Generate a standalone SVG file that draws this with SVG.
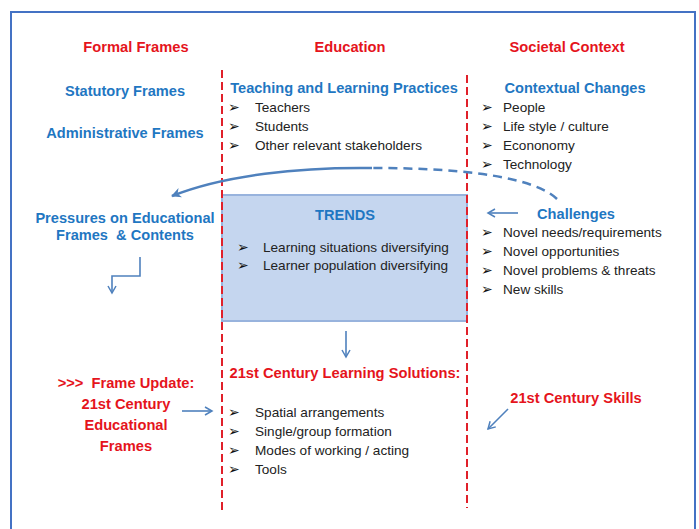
<svg xmlns="http://www.w3.org/2000/svg" width="699" height="529" viewBox="0 0 699 529">
<style>
text{font-family:"Liberation Sans",Arial,sans-serif}
.red{fill:#E5141C;font-weight:bold;font-size:14.7px}
.blue{fill:#1F77C2;font-weight:bold;font-size:14.6px}
.body{fill:#222;font-size:13.6px}
.bul{fill:#111;font-family:"DejaVu Sans",sans-serif;font-size:14px}
.mid{text-anchor:middle}
.conn{fill:none;stroke:#4F81BD;stroke-width:1.6}
.div{stroke:#E0202A;stroke-width:2;stroke-dasharray:8,4}
</style>
<defs>
<marker id="open" markerWidth="10" markerHeight="10" refX="8" refY="5" orient="auto" markerUnits="userSpaceOnUse">
<path d="M1,1 L8,5 L1,9" fill="none" stroke="#4F81BD" stroke-width="1.5"/>
</marker>
<marker id="solid" markerWidth="12" markerHeight="12" refX="9" refY="6" orient="auto" markerUnits="userSpaceOnUse">
<path d="M0,1 L10,6 L0,11 L3,6 Z" fill="#4F81BD"/>
</marker>
</defs>
<rect x="0" y="0" width="699" height="529" fill="#fff"/>
<rect x="11" y="12" width="684" height="530" fill="none" stroke="#4472C4" stroke-width="2"/>

<g id="trends">
<rect x="222" y="195" width="245" height="126" fill="#C5D6EF" stroke="#98B3DD" stroke-width="2"/>
<text class="blue mid" x="345" y="220">TRENDS</text>
<text class="bul" x="237" y="252">➢</text>
<text class="body" x="263" y="252">Learning situations diversifying</text>
<text class="bul" x="237" y="270">➢</text>
<text class="body" x="263" y="270">Learner population diversifying</text>
</g>

<g id="dividers">
<line class="div" x1="222" y1="70" x2="222" y2="514"/>
<line class="div" x1="467" y1="75" x2="467" y2="508"/>
</g>

<g id="headers">
<text class="red mid" x="136" y="52">Formal Frames</text>
<text class="red mid" x="350" y="52">Education</text>
<text class="red mid" x="567" y="52">Societal Context</text>
</g>

<g id="statutory"><text class="blue mid" x="125" y="96">Statutory Frames</text></g>
<g id="administrative"><text class="blue mid" x="125" y="138">Administrative Frames</text></g>

<g id="teaching">
<text class="blue mid" x="344" y="93">Teaching and Learning Practices</text>
<text class="bul" x="228" y="112">➢</text><text class="body" x="255" y="112">Teachers</text>
<text class="bul" x="228" y="131">➢</text><text class="body" x="255" y="131">Students</text>
<text class="bul" x="228" y="150">➢</text><text class="body" x="255" y="150">Other relevant stakeholders</text>
</g>

<g id="contextual">
<text class="blue mid" x="575" y="93">Contextual Changes</text>
<text class="bul" x="481" y="112">➢</text><text class="body" x="503" y="112">People</text>
<text class="bul" x="481" y="131">➢</text><text class="body" x="503" y="131">Life style / culture</text>
<text class="bul" x="481" y="150">➢</text><text class="body" x="503" y="150">Econonomy</text>
<text class="bul" x="481" y="169">➢</text><text class="body" x="503" y="169">Technology</text>
</g>

<g id="pressures">
<text class="blue mid" x="125" y="223">Pressures on Educational</text>
<text class="blue mid" x="125" y="240" xml:space="preserve">Frames  &amp; Contents</text>
</g>

<g id="challenges">
<text class="blue mid" x="576" y="219">Challenges</text>
<text class="bul" x="481" y="237">➢</text><text class="body" x="503" y="237">Novel needs/requirements</text>
<text class="bul" x="481" y="256">➢</text><text class="body" x="503" y="256">Novel opportunities</text>
<text class="bul" x="481" y="275">➢</text><text class="body" x="503" y="275">Novel problems &amp; threats</text>
<text class="bul" x="481" y="294">➢</text><text class="body" x="503" y="294">New skills</text>
</g>

<g id="solutions">
<text class="red mid" x="345" y="378">21st Century Learning Solutions:</text>
<text class="bul" x="228" y="417">➢</text><text class="body" x="255" y="417">Spatial arrangements</text>
<text class="bul" x="228" y="436">➢</text><text class="body" x="255" y="436">Single/group formation</text>
<text class="bul" x="228" y="455">➢</text><text class="body" x="255" y="455">Modes of working / acting</text>
<text class="bul" x="228" y="474">➢</text><text class="body" x="255" y="474">Tools</text>
</g>

<g id="frameupdate">
<text class="red mid" x="126" y="388" xml:space="preserve">&gt;&gt;&gt;  Frame Update:</text>
<text class="red mid" x="126" y="409">21st Century</text>
<text class="red mid" x="126" y="430">Educational</text>
<text class="red mid" x="126" y="451">Frames</text>
</g>

<g id="skills"><text class="red mid" x="576" y="403">21st Century Skills</text></g>

<g id="connectors">
<path d="M557,199 C535,178 470,168 372,168" fill="none" stroke="#4F81BD" stroke-width="2.5" stroke-dasharray="9,6"/>
<path d="M372,168 C300,167 225,175 172,196" fill="none" stroke="#4F81BD" stroke-width="2.5" marker-end="url(#solid)"/>
<path class="conn" d="M140,257 V276 H112 V293" marker-end="url(#open)"/>
<line class="conn" x1="518" y1="213" x2="488" y2="213" marker-end="url(#open)"/>
<line class="conn" x1="346" y1="331" x2="346" y2="357" marker-end="url(#open)"/>
<line class="conn" x1="182" y1="411" x2="212" y2="411" marker-end="url(#open)"/>
<line class="conn" x1="508" y1="409" x2="488" y2="429" marker-end="url(#open)"/>
</g>
</svg>
